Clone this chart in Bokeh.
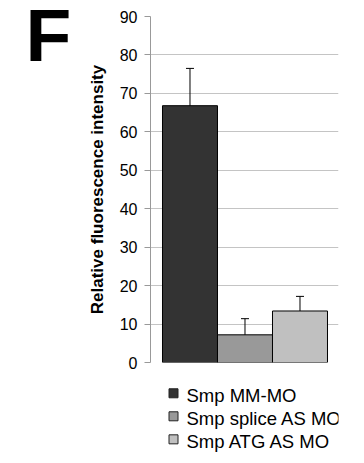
from bokeh.plotting import figure
from bokeh.layouts import column
from bokeh.models import (ColumnDataSource, Range1d, Whisker, Label, FixedTicker)
from bokeh.core.properties import value
from bokeh.embed import file_html
from bokeh.resources import INLINE

groups = ["Smp MM-MO", "Smp splice AS MO", "Smp ATG AS MO"]
means = [66.8, 7.2, 13.4]
errors = [9.7, 4.2, 3.8]
colors = ["#333333", "#999999", "#c0c0c0"]
y_ticks = [0, 10, 20, 30, 40, 50, 60, 70, 80, 90]
panel_letter = "F"

xs = [i + 0.5 for i in range(len(groups))]
src = ColumnDataSource(dict(
    x=xs, top=means, color=colors, label=groups,
    upper=[m + e for m, e in zip(means, errors)],
    lower=[m - e for m, e in zip(means, errors)],
))

FONT = "Liberation Sans"
p = figure(width=364, height=370, output_backend="svg", toolbar_location=None,
           x_range=Range1d(-0.218, 3.2), y_range=Range1d(0, 90),
           min_border_left=150, min_border_right=26, min_border_top=16,
           min_border_bottom=8)
p.outline_line_color = None
p.background_fill_color = "white"

r = p.vbar(x="x", top="top", width=1.0, bottom=0, source=src,
           fill_color="color", line_color="black", line_width=1)

w = Whisker(base="x", upper="upper", lower="lower", source=src,
            line_color="black", line_width=1)
w.upper_head.size = 8
w.lower_head.size = 8
w.upper_head.line_color = "black"
w.lower_head.line_color = "black"
p.add_layout(w)

p.xaxis.visible = False
p.xgrid.visible = False
p.ygrid.grid_line_color = "#c4c4c4"
p.ygrid.grid_line_width = 1
p.yaxis.ticker = FixedTicker(ticks=y_ticks)
p.yaxis.minor_tick_line_color = None
p.yaxis.major_tick_out = 6
p.yaxis.major_tick_in = 0
p.yaxis.major_tick_line_color = "#999999"
p.yaxis.axis_line_color = "#999999"
p.yaxis.major_label_text_font = FONT
p.yaxis.major_label_text_font_size = "16px"
p.yaxis.major_label_text_color = "black"
p.yaxis.major_label_standoff = 7
p.yaxis.axis_label = "Relative fluorescence intensity"
p.yaxis.axis_label_text_font = FONT
p.yaxis.axis_label_text_font_size = "17px"
p.yaxis.axis_label_text_font_style = "bold"
p.yaxis.axis_label_text_color = "black"
p.yaxis.axis_label_standoff = 10

p.add_layout(Label(x=25, y=34, x_units="canvas", y_units="canvas", text=panel_letter,
                   text_font=FONT, text_font_size="75px", text_font_style="bold",
                   text_color="black", text_baseline="alphabetic"), "left")

# legend strip below the chart (its frame is aligned with the chart frame)
idx = list(range(len(groups)))
lsrc = ColumnDataSource(dict(x=[0] * len(groups), y=idx, color=colors, label=groups))
lg = figure(width=364, height=93, output_backend="svg", toolbar_location=None,
            x_range=Range1d(-23, 165), y_range=Range1d(3.05, -0.99),
            min_border_left=150, min_border_right=26, min_border_top=0,
            min_border_bottom=0)
lg.axis.visible = False
lg.grid.visible = False
lg.outline_line_color = None
lg.scatter(x="x", y="y", marker="square", size=9, fill_color="color",
           line_color="#222222", line_width=1, source=lsrc)
lg.text(x="x", y="y", text="label", x_offset=13, y_offset=2.5, source=lsrc,
        text_font=value(FONT), text_font_size="18.5px", text_color="black",
        text_baseline="alphabetic", text_align="left")

layout = column(p, lg, spacing=0)
open("out.html", "w").write(file_html(layout, INLINE))
